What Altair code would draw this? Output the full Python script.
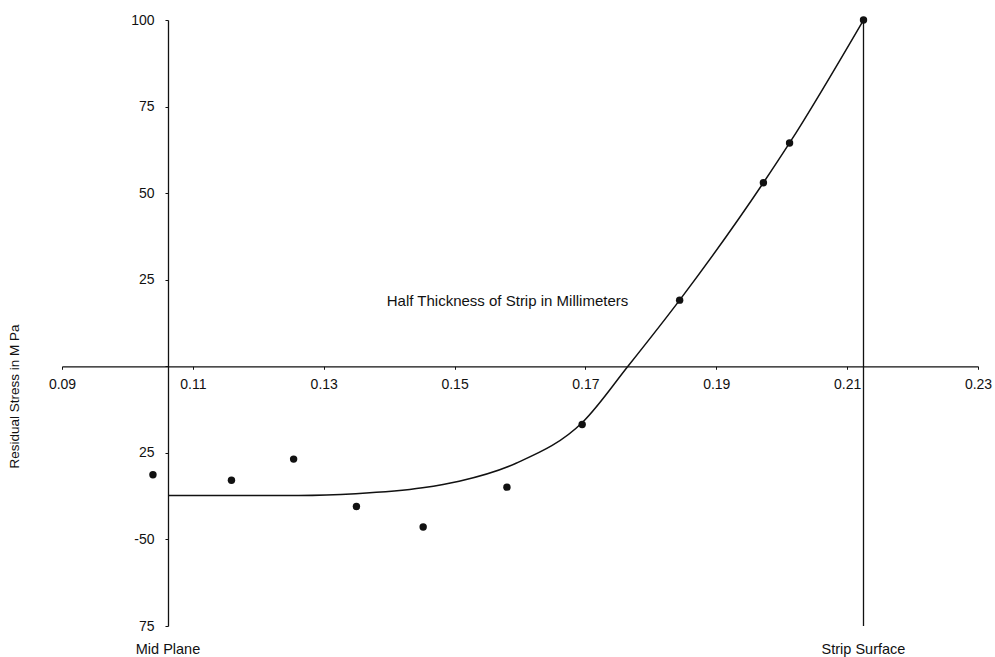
import altair as alt
import pandas as pd

# Measured points (half thickness in mm, residual stress in MPa)
pt_x = [0.1039, 0.1159, 0.1254, 0.1350, 0.1452, 0.1580, 0.1695, 0.1844, 0.1972, 0.2012, 0.2125]
pt_y = [-31.3, -32.9, -26.8, -40.5, -46.4, -34.9, -16.8, 19.1, 53.0, 64.5, 100]

# Fitted curve
curve_x = [0.1063, 0.1262, 0.1349, 0.1451, 0.1507, 0.1594, 0.1696, 0.1765, 0.1844, 0.1972, 0.2012, 0.2125]
curve_y = [-37.3, -37.3, -36.8, -35.1, -33.2, -28.0, -16.1, 0.0, 19.1, 53.0, 64.5, 100]

# Axes
x_ticks = [0.09, 0.11, 0.13, 0.15, 0.17, 0.19, 0.21, 0.23]
x_tick_labels = ["0.09", "0.11", "0.13", "0.15", "0.17", "0.19", "0.21", "0.23"]
y_ticks = [-75, -50, -25, 0, 25, 50, 75, 100]
y_tick_labels = ["75", "-50", "25", "", "25", "50", "75", "100"]

x_domain = [0.09, 0.23]
y_domain = [-75, 100]
mid_plane_x = 0.1062      # where the stress axis crosses
surface_x = 0.2125        # strip surface

# Annotations
ann_text = ["Mid Plane", "Strip Surface"]
ann_x = [mid_plane_x, surface_x]

W, H = 916, 606
FONT = "Liberation Sans"
INK = "#111111"

def label_expr(ticks, labels):
    expr = "''"
    for t, l in zip(ticks, labels):
        expr = f"(abs(datum.value - ({t})) < 1e-6 ? '{l}' : {expr})"
    return expr

y_axis_offset = -(mid_plane_x - x_domain[0]) / (x_domain[1] - x_domain[0]) * W
x_axis_offset = -(H - (y_domain[1] - 0) / (y_domain[1] - y_domain[0]) * H)

x_scale = alt.Scale(domain=x_domain, nice=False, zero=False)
y_scale = alt.Scale(domain=y_domain, nice=False, zero=False)

x_axis = alt.Axis(
    values=x_ticks, labelExpr=label_expr(x_ticks, x_tick_labels),
    orient="bottom", offset=x_axis_offset, grid=False,
    domainColor=INK, domainWidth=1.3, tickColor=INK, tickSize=3,
    labelFont=FONT, labelFontSize=14, labelColor=INK, labelPadding=8,
    labelBaseline="top", labelFlush=False, labelOverlap=False,
    title="Half Thickness of Strip in Millimeters", titleFont=FONT,
    titleFontSize=15, titleFontWeight="normal", titleColor=INK,
    titleX=445, titleY=-66, titleBaseline="middle", titleAlign="center",
)
y_axis = alt.Axis(
    values=y_ticks, labelExpr=label_expr(y_ticks, y_tick_labels),
    orient="left", offset=y_axis_offset, grid=False,
    domainColor=INK, domainWidth=1.3, tickColor=INK, tickSize=3,
    labelFont=FONT, labelFontSize=14, labelColor=INK, labelPadding=11,
    labelFlush=False, labelOverlap=False,
    title="Residual Stress in M Pa", titleFont=FONT, titleFontSize=13.5,
    titleFontWeight="normal", titleColor=INK, titleAngle=270,
    titleX=-153, titleY=376, titleBaseline="middle", titleAlign="center",
)

pts = pd.DataFrame({"x": pt_x, "y": pt_y})
crv = pd.DataFrame({"x": curve_x, "y": curve_y})
surf = pd.DataFrame({"x": [surface_x], "y": [y_domain[1]], "y2": [y_domain[0]]})
ann = pd.DataFrame({"x": ann_x, "t": ann_text})

base_axes = alt.Chart(crv).mark_line(
    color=INK, strokeWidth=1.5, interpolate="monotone"
).encode(
    x=alt.X("x:Q", scale=x_scale, axis=x_axis),
    y=alt.Y("y:Q", scale=y_scale, axis=y_axis),
)

points = alt.Chart(pts).mark_circle(color=INK, opacity=1, size=55).encode(
    x=alt.X("x:Q", scale=x_scale),
    y=alt.Y("y:Q", scale=y_scale),
)

surface_rule = alt.Chart(surf).mark_rule(color=INK, strokeWidth=1.3).encode(
    x=alt.X("x:Q", scale=x_scale),
    y=alt.Y("y:Q", scale=y_scale),
    y2="y2:Q",
)

labels = alt.Chart(ann).mark_text(
    font=FONT, fontSize=14.5, color=INK, align="center", baseline="middle"
).encode(
    x=alt.X("x:Q", scale=x_scale),
    y=alt.value(H + 24),
    text="t:N",
)

chart = alt.layer(base_axes, surface_rule, points, labels).properties(
    width=W, height=H,
    autosize=alt.AutoSizeParams(type="none"),
    padding={"left": 62, "top": 20, "right": 17, "bottom": 31},
    background="white",
).configure_view(stroke=None)

chart.save("out.html", embed_options={"renderer": "svg", "actions": False})
